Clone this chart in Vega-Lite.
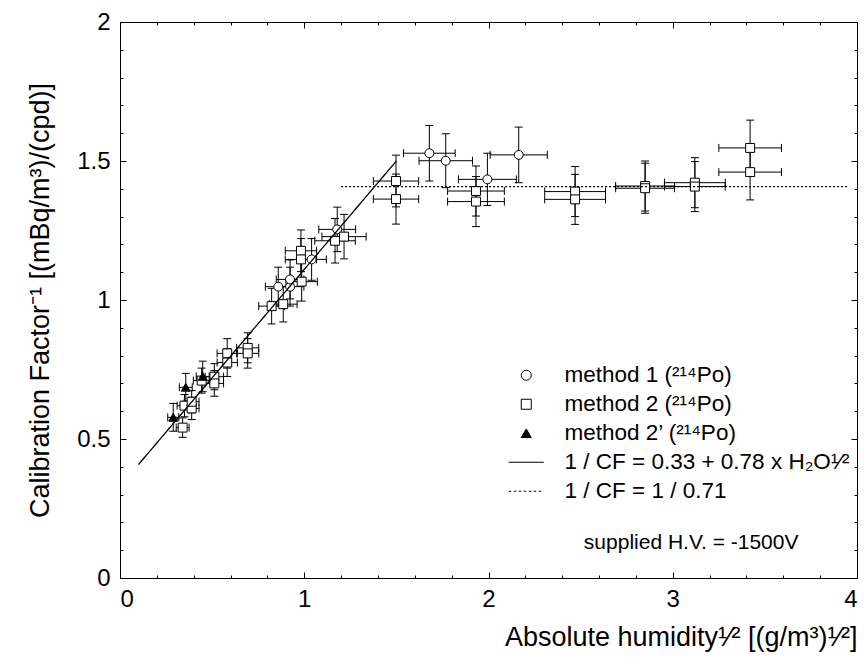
{
  "$schema": "https://vega.github.io/schema/vega-lite/v6.json",
  "width": 737,
  "height": 556,
  "autosize": {"type": "none"},
  "padding": {"left": 120, "top": 22, "right": 10, "bottom": 86},
  "background": "white",
  "config": {
    "view": {"stroke": "black", "strokeWidth": 1},
    "font": "Liberation Sans",
    "axis": {"domain": false, "grid": false, "labelFont": "Liberation Sans", "titleFont": "Liberation Sans", "labelColor": "black", "titleColor": "black", "tickColor": "black", "titleFontWeight": "normal"},
    "legend": {"orient": "none", "legendX": 395, "legendY": 342, "title": null, "labelFontSize": 22.5, "labelFont": "Liberation Sans", "labelColor": "black", "symbolSize": 100, "symbolStrokeColor": "black", "symbolStrokeWidth": 1, "rowPadding": 6, "labelOffset": 27, "padding": 0, "labelLimit": 500}
  },
  "datasets": {
    "pts": [
      {"m": "method 1 (²¹⁴Po)", "x": 0.859, "y": 1.048, "xlo": 0.789, "xhi": 0.929, "ylo": 0.978, "yhi": 1.118},
      {"m": "method 1 (²¹⁴Po)", "x": 0.923, "y": 1.048, "xlo": 0.848, "xhi": 0.998, "ylo": 0.978, "yhi": 1.118},
      {"m": "method 1 (²¹⁴Po)", "x": 0.923, "y": 1.074, "xlo": 0.848, "xhi": 0.998, "ylo": 1.004, "yhi": 1.144},
      {"m": "method 1 (²¹⁴Po)", "x": 1.040, "y": 1.146, "xlo": 0.960, "xhi": 1.120, "ylo": 1.071, "yhi": 1.221},
      {"m": "method 1 (²¹⁴Po)", "x": 1.179, "y": 1.254, "xlo": 1.079, "xhi": 1.279, "ylo": 1.174, "yhi": 1.334},
      {"m": "method 1 (²¹⁴Po)", "x": 1.679, "y": 1.528, "xlo": 1.539, "xhi": 1.819, "ylo": 1.428, "yhi": 1.628},
      {"m": "method 1 (²¹⁴Po)", "x": 1.768, "y": 1.501, "xlo": 1.623, "xhi": 1.913, "ylo": 1.404, "yhi": 1.598},
      {"m": "method 1 (²¹⁴Po)", "x": 1.994, "y": 1.434, "xlo": 1.837, "xhi": 2.151, "ylo": 1.340, "yhi": 1.528},
      {"m": "method 1 (²¹⁴Po)", "x": 2.164, "y": 1.522, "xlo": 2.009, "xhi": 2.319, "ylo": 1.422, "yhi": 1.622},
      {"m": "method 2 (²¹⁴Po)", "x": 0.340, "y": 0.541, "xlo": 0.305, "xhi": 0.375, "ylo": 0.506, "yhi": 0.576},
      {"m": "method 2 (²¹⁴Po)", "x": 0.350, "y": 0.620, "xlo": 0.310, "xhi": 0.390, "ylo": 0.580, "yhi": 0.660},
      {"m": "method 2 (²¹⁴Po)", "x": 0.389, "y": 0.610, "xlo": 0.349, "xhi": 0.429, "ylo": 0.570, "yhi": 0.650},
      {"m": "method 2 (²¹⁴Po)", "x": 0.389, "y": 0.634, "xlo": 0.349, "xhi": 0.429, "ylo": 0.594, "yhi": 0.674},
      {"m": "method 2 (²¹⁴Po)", "x": 0.443, "y": 0.710, "xlo": 0.398, "xhi": 0.488, "ylo": 0.665, "yhi": 0.755},
      {"m": "method 2 (²¹⁴Po)", "x": 0.512, "y": 0.724, "xlo": 0.462, "xhi": 0.562, "ylo": 0.677, "yhi": 0.771},
      {"m": "method 2 (²¹⁴Po)", "x": 0.512, "y": 0.700, "xlo": 0.462, "xhi": 0.562, "ylo": 0.654, "yhi": 0.746},
      {"m": "method 2 (²¹⁴Po)", "x": 0.582, "y": 0.808, "xlo": 0.527, "xhi": 0.637, "ylo": 0.755, "yhi": 0.861},
      {"m": "method 2 (²¹⁴Po)", "x": 0.582, "y": 0.775, "xlo": 0.527, "xhi": 0.637, "ylo": 0.725, "yhi": 0.825},
      {"m": "method 2 (²¹⁴Po)", "x": 0.693, "y": 0.828, "xlo": 0.633, "xhi": 0.753, "ylo": 0.774, "yhi": 0.882},
      {"m": "method 2 (²¹⁴Po)", "x": 0.693, "y": 0.808, "xlo": 0.633, "xhi": 0.753, "ylo": 0.755, "yhi": 0.861},
      {"m": "method 2 (²¹⁴Po)", "x": 0.823, "y": 0.978, "xlo": 0.753, "xhi": 0.893, "ylo": 0.914, "yhi": 1.042},
      {"m": "method 2 (²¹⁴Po)", "x": 0.886, "y": 0.985, "xlo": 0.811, "xhi": 0.961, "ylo": 0.921, "yhi": 1.049},
      {"m": "method 2 (²¹⁴Po)", "x": 0.982, "y": 1.177, "xlo": 0.897, "xhi": 1.067, "ylo": 1.102, "yhi": 1.252},
      {"m": "method 2 (²¹⁴Po)", "x": 0.982, "y": 1.146, "xlo": 0.897, "xhi": 1.067, "ylo": 1.071, "yhi": 1.221},
      {"m": "method 2 (²¹⁴Po)", "x": 0.986, "y": 1.066, "xlo": 0.901, "xhi": 1.071, "ylo": 0.996, "yhi": 1.136},
      {"m": "method 2 (²¹⁴Po)", "x": 1.167, "y": 1.213, "xlo": 1.057, "xhi": 1.277, "ylo": 1.133, "yhi": 1.293},
      {"m": "method 2 (²¹⁴Po)", "x": 1.216, "y": 1.228, "xlo": 1.096, "xhi": 1.336, "ylo": 1.148, "yhi": 1.308},
      {"m": "method 2 (²¹⁴Po)", "x": 1.498, "y": 1.428, "xlo": 1.375, "xhi": 1.621, "ylo": 1.335, "yhi": 1.521},
      {"m": "method 2 (²¹⁴Po)", "x": 1.498, "y": 1.363, "xlo": 1.375, "xhi": 1.621, "ylo": 1.273, "yhi": 1.453},
      {"m": "method 2 (²¹⁴Po)", "x": 1.932, "y": 1.392, "xlo": 1.778, "xhi": 2.086, "ylo": 1.302, "yhi": 1.482},
      {"m": "method 2 (²¹⁴Po)", "x": 1.932, "y": 1.354, "xlo": 1.778, "xhi": 2.086, "ylo": 1.264, "yhi": 1.444},
      {"m": "method 2 (²¹⁴Po)", "x": 2.470, "y": 1.390, "xlo": 2.305, "xhi": 2.635, "ylo": 1.300, "yhi": 1.480},
      {"m": "method 2 (²¹⁴Po)", "x": 2.470, "y": 1.362, "xlo": 2.305, "xhi": 2.635, "ylo": 1.272, "yhi": 1.452},
      {"m": "method 2 (²¹⁴Po)", "x": 2.850, "y": 1.410, "xlo": 2.690, "xhi": 3.010, "ylo": 1.320, "yhi": 1.500},
      {"m": "method 2 (²¹⁴Po)", "x": 2.850, "y": 1.402, "xlo": 2.690, "xhi": 3.010, "ylo": 1.312, "yhi": 1.492},
      {"m": "method 2 (²¹⁴Po)", "x": 3.120, "y": 1.422, "xlo": 2.955, "xhi": 3.285, "ylo": 1.332, "yhi": 1.512},
      {"m": "method 2 (²¹⁴Po)", "x": 3.120, "y": 1.408, "xlo": 2.955, "xhi": 3.285, "ylo": 1.318, "yhi": 1.498},
      {"m": "method 2 (²¹⁴Po)", "x": 3.420, "y": 1.547, "xlo": 3.250, "xhi": 3.590, "ylo": 1.447, "yhi": 1.647},
      {"m": "method 2 (²¹⁴Po)", "x": 3.420, "y": 1.460, "xlo": 3.250, "xhi": 3.590, "ylo": 1.360, "yhi": 1.560},
      {"m": "method 2’ (²¹⁴Po)", "x": 0.289, "y": 0.578, "xlo": 0.259, "xhi": 0.319, "ylo": 0.528, "yhi": 0.628},
      {"m": "method 2’ (²¹⁴Po)", "x": 0.357, "y": 0.686, "xlo": 0.322, "xhi": 0.392, "ylo": 0.636, "yhi": 0.736},
      {"m": "method 2’ (²¹⁴Po)", "x": 0.449, "y": 0.725, "xlo": 0.414, "xhi": 0.484, "ylo": 0.670, "yhi": 0.780}
    ],
    "fits": [
      {"s": "fit", "x": 0.1, "y": 0.408},
      {"s": "fit", "x": 1.5, "y": 1.5},
      {"s": "const", "x": 1.2, "y": 1.408},
      {"s": "const", "x": 3.95, "y": 1.408}
    ],
    "notes": [
      {"x": 3.1, "y": 0.126, "t": "supplied H.V. = -1500V"}
    ]
  },
  "resolve": {"axis": {"x": "independent", "y": "independent"}},
  "layer": [
    {
      "data": {"name": "pts"},
      "mark": {"type": "rule", "stroke": "black", "strokeWidth": 1},
      "encoding": {
        "x": {"field": "xlo", "type": "quantitative", "scale": {"domain": [0, 4], "nice": false, "zero": false},
          "axis": {"orient": "bottom", "values": [0, 1, 2, 3, 4], "format": "~g", "ticks": false, "labelPadding": 9, "labelFontSize": 24, "title": "Absolute humidity¹⁄² [(g/m³)¹⁄²]", "titleFontSize": 27, "titleAnchor": "end", "titlePadding": 13}},
        "x2": {"field": "xhi"},
        "y": {"field": "y", "type": "quantitative", "scale": {"domain": [0, 2], "nice": false, "zero": false},
          "axis": {"orient": "left", "values": [0, 0.5, 1, 1.5, 2], "format": "~g", "ticks": false, "labelPadding": 10, "labelFontSize": 24, "title": "Calibration Factor⁻¹ [(mBq/m³)/(cpd)]", "titleFontSize": 27, "titlePadding": 22}}
      }
    },
    {
      "data": {"name": "pts"},
      "mark": {"type": "rule", "stroke": "black", "strokeWidth": 1},
      "encoding": {
        "x": {"field": "x", "type": "quantitative", "scale": {"domain": [0, 4], "nice": false, "zero": false},
          "axis": {"orient": "bottom", "values": [0, 1, 2, 3, 4], "labels": false, "tickSize": -6, "title": null}},
        "y": {"field": "ylo", "type": "quantitative", "scale": {"domain": [0, 2], "nice": false, "zero": false},
          "axis": {"orient": "left", "values": [0, 0.5, 1, 1.5, 2], "labels": false, "tickSize": -6, "title": null}},
        "y2": {"field": "yhi"}
      }
    },
    {
      "data": {"name": "pts"},
      "mark": {"type": "point", "shape": "M0,-1V1", "size": 64, "stroke": "black", "strokeWidth": 1, "opacity": 1, "filled": false},
      "encoding": {
        "x": {"field": "xlo", "type": "quantitative", "scale": {"domain": [0, 4], "nice": false, "zero": false},
          "axis": {"orient": "bottom", "values": [0, 0.2, 0.4, 0.6, 0.8, 1, 1.2, 1.4, 1.6, 1.8, 2, 2.2, 2.4, 2.6, 2.8, 3, 3.2, 3.4, 3.6, 3.8, 4], "labels": false, "tickSize": -3, "title": null}},
        "y": {"field": "y", "type": "quantitative", "scale": {"domain": [0, 2], "nice": false, "zero": false},
          "axis": {"orient": "left", "values": [0, 0.1, 0.2, 0.3, 0.4, 0.5, 0.6, 0.7, 0.8, 0.9, 1, 1.1, 1.2, 1.3, 1.4, 1.5, 1.6, 1.7, 1.8, 1.9, 2], "labels": false, "tickSize": -3, "title": null}}
      }
    },
    {
      "data": {"name": "pts"},
      "mark": {"type": "point", "shape": "M0,-1V1", "size": 64, "stroke": "black", "strokeWidth": 1, "opacity": 1, "filled": false},
      "encoding": {
        "x": {"field": "xhi", "type": "quantitative", "scale": {"domain": [0, 4], "nice": false, "zero": false},
          "axis": {"orient": "top", "values": [0, 1, 2, 3, 4], "labels": false, "tickSize": -6, "title": null}},
        "y": {"field": "y", "type": "quantitative", "scale": {"domain": [0, 2], "nice": false, "zero": false},
          "axis": {"orient": "right", "values": [0, 0.5, 1, 1.5, 2], "labels": false, "tickSize": -6, "title": null}}
      }
    },
    {
      "data": {"name": "pts"},
      "mark": {"type": "point", "shape": "M-1,0H1", "size": 64, "stroke": "black", "strokeWidth": 1, "opacity": 1, "filled": false},
      "encoding": {
        "x": {"field": "x", "type": "quantitative", "scale": {"domain": [0, 4], "nice": false, "zero": false},
          "axis": {"orient": "top", "values": [0, 0.2, 0.4, 0.6, 0.8, 1, 1.2, 1.4, 1.6, 1.8, 2, 2.2, 2.4, 2.6, 2.8, 3, 3.2, 3.4, 3.6, 3.8, 4], "labels": false, "tickSize": -3, "title": null}},
        "y": {"field": "ylo", "type": "quantitative", "scale": {"domain": [0, 2], "nice": false, "zero": false},
          "axis": {"orient": "right", "values": [0, 0.1, 0.2, 0.3, 0.4, 0.5, 0.6, 0.7, 0.8, 0.9, 1, 1.1, 1.2, 1.3, 1.4, 1.5, 1.6, 1.7, 1.8, 1.9, 2], "labels": false, "tickSize": -3, "title": null}}
      }
    },
    {
      "data": {"name": "pts"},
      "mark": {"type": "point", "shape": "M-1,0H1", "size": 64, "stroke": "black", "strokeWidth": 1, "opacity": 1, "filled": false},
      "encoding": {
        "x": {"field": "x", "type": "quantitative", "axis": null},
        "y": {"field": "yhi", "type": "quantitative", "axis": null}
      }
    },
    {
      "data": {"name": "pts"},
      "mark": {"type": "point", "size": 80, "strokeWidth": 1, "opacity": 1, "filled": true},
      "encoding": {
        "x": {"field": "x", "type": "quantitative", "axis": null},
        "y": {"field": "y", "type": "quantitative", "axis": null},
        "shape": {"field": "m", "type": "nominal",
          "scale": {"domain": ["method 1 (²¹⁴Po)", "method 2 (²¹⁴Po)", "method 2’ (²¹⁴Po)", "1 / CF = 0.33 + 0.78 x H₂O¹⁄²", "1 / CF = 1 / 0.71"],
            "range": ["circle", "square", "triangle-up", "M-3.5,0H3.5", "M-3.5,0H-3M-2.5,0H-2M-1.5,0H-1M-0.5,0H0M0.5,0H1M1.5,0H2M2.5,0H3M3.5,0H3.5"]}},
        "fill": {"field": "m", "type": "nominal",
          "scale": {"domain": ["method 1 (²¹⁴Po)", "method 2 (²¹⁴Po)", "method 2’ (²¹⁴Po)", "1 / CF = 0.33 + 0.78 x H₂O¹⁄²", "1 / CF = 1 / 0.71"],
            "range": ["white", "white", "black", "transparent", "transparent"]}},
        "stroke": {"field": "m", "type": "nominal",
          "scale": {"domain": ["method 1 (²¹⁴Po)", "method 2 (²¹⁴Po)", "method 2’ (²¹⁴Po)", "1 / CF = 0.33 + 0.78 x H₂O¹⁄²", "1 / CF = 1 / 0.71"],
            "range": ["black", "black", "black", "black", "black"]}}
      }
    },
    {
      "data": {"name": "fits"},
      "mark": {"type": "line", "stroke": "black", "strokeWidth": 1.3},
      "encoding": {
        "x": {"field": "x", "type": "quantitative", "axis": null},
        "y": {"field": "y", "type": "quantitative", "axis": null},
        "detail": {"field": "s"},
        "strokeDash": {"field": "s", "type": "nominal", "scale": {"domain": ["fit", "const"], "range": [[1, 0], [2, 2]]}, "legend": null}
      }
    },
    {
      "data": {"name": "notes"},
      "mark": {"type": "text", "fontSize": 21, "font": "Liberation Sans", "color": "black", "align": "center", "baseline": "middle"},
      "encoding": {
        "x": {"field": "x", "type": "quantitative", "axis": null},
        "y": {"field": "y", "type": "quantitative", "axis": null},
        "text": {"field": "t"}
      }
    }
  ]
}
